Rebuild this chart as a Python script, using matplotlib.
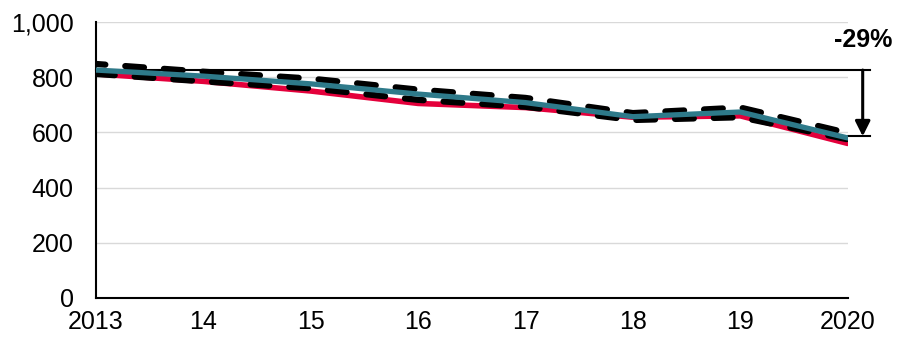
import numpy as np
import matplotlib.pyplot as plt

plt.rcParams['font.family'] = ['Liberation Sans', 'DejaVu Sans']

years = ['2013', '14', '15', '16', '17', '18', '19', '2020']
teal = [826, 804, 776, 739, 708, 657, 674, 580]
red = [812, 785, 750, 705, 690, 655, 660, 560]
upper = [848, 820, 795, 755, 725, 670, 690, 598]
lower = [812, 785, 760, 718, 693, 645, 655, 575]
ref_top, ref_bottom = 826, 586
change_label = '-29%'

x = np.arange(len(years))

fig = plt.figure(figsize=(8.97, 3.39), dpi=100)
ax = fig.add_axes([0.107, 0.121, 0.838, 0.814])

dash = (0, (3.0, 3.2))
ax.plot(x, red, color='#E4003B', lw=4, solid_capstyle='round', zorder=3)
ax.plot(x, lower, color='black', lw=4.5, ls=dash, dash_capstyle='round', zorder=4)
ax.plot(x, upper, color='black', lw=4.5, ls=(1.5, (3.0, 3.2)), dash_capstyle='round', zorder=4)
ax.plot(x, teal, color='#2E7A8A', lw=3.8, solid_capstyle='round', zorder=5)

# reference lines and arrow
ax.plot([x[0], x[-1] + 0.21], [ref_top, ref_top], color='black', lw=1.5, clip_on=False, zorder=2)
ax.plot([x[-1], x[-1] + 0.21], [ref_bottom, ref_bottom], color='black', lw=1.5, clip_on=False, zorder=2)
ax.annotate('', xy=(x[-1] + 0.14, ref_bottom), xytext=(x[-1] + 0.14, ref_top),
            arrowprops=dict(arrowstyle='-|>,head_length=0.9,head_width=0.45', color='black', lw=2.2,
                            shrinkA=0, shrinkB=0),
            annotation_clip=False)
ax.text(x[-1] + 0.14, 935, change_label, ha='center', va='center', fontsize=18, fontweight='bold',
        clip_on=False)

ax.set_xlim(0, len(years) - 1)
ax.set_ylim(0, 1000)
ax.set_yticks(np.arange(0, 1001, 200))
ax.set_yticklabels([f'{v:,}' for v in range(0, 1001, 200)])
ax.set_xticks(x)
ax.set_xticklabels(years)
ax.tick_params(axis='both', length=0, labelsize=18)
ax.tick_params(axis='y', pad=16)
ax.tick_params(axis='x', pad=9)
ax.grid(axis='y', color='#D9D9D9', lw=1)
ax.set_axisbelow(True)
for s in ['top', 'right']:
    ax.spines[s].set_visible(False)
ax.spines['left'].set_linewidth(1.5)
ax.spines['bottom'].set_linewidth(1.5)

fig.savefig('out.png', dpi=100)
